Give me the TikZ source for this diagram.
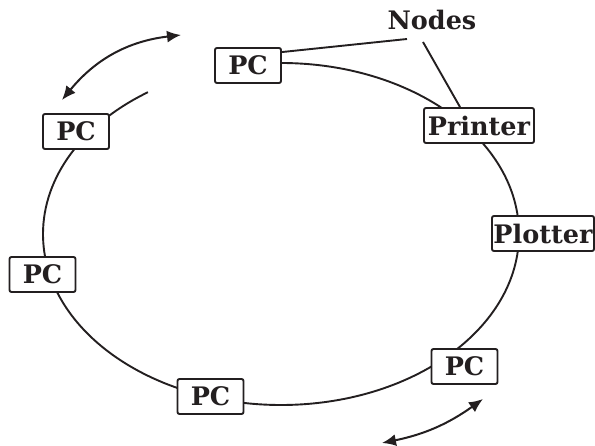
\documentclass[tikz,border=0pt]{standalone}
\usepackage{fontspec}
\setmainfont{DejaVu Serif}
\usetikzlibrary{arrows.meta}
\definecolor{ink}{RGB}{35,31,32}
\begin{document}
\begin{tikzpicture}[x=1pt,y=-1pt,
  station/.style={draw=ink, line width=1.9pt, rounded corners=2pt, fill=white,
    text=ink, font=\fontsize{25.5}{28}\selectfont\bfseries, inner sep=0pt,
    minimum height=35pt},
  pc/.style={station, minimum width=66pt},
  ring/.style={draw=ink, line width=1.9pt},
  token/.style={draw=ink, line width=2pt,
    {Latex[length=14pt,width=12pt]}-{Latex[length=14pt,width=12pt]}},
  callout/.style={draw=ink, line width=1.9pt},
  caption/.style={text=ink, font=\fontsize{25.5}{28}\selectfont\bfseries, inner sep=0pt}]
\useasboundingbox (0,0) rectangle (595,446);

% ring cable: an open ellipse, broken between the two upper-left PCs
\coordinate (hub) at (281,234);
\draw[ring] (281,63) arc[start angle=270, end angle=596, x radius=238, y radius=171];

% stations on the ring
\node[pc] (pcA) at (248,65.5) {PC};
\node[pc] (pcB) at (76,131.5) {PC};
\node[pc] (pcC) at (42.5,274.5) {PC};
\node[pc] (pcD) at (210.5,396.5) {PC};
\node[pc] (pcE) at (464.5,366.5) {PC};
\node[station, minimum width=110pt] (printer) at (479,125.5) {Printer};
\node[station, minimum width=102pt] (plotter) at (543,233.5) {Plotter};

% label with its pointers
\node[caption, anchor=base] (nodes) at (432,30) {Nodes};
\draw[callout] ([xshift=-25pt,yshift=-9pt]nodes.base) -- ([yshift=-5pt]pcA.north east);
\draw[callout] ([xshift=-9pt,yshift=-12pt]nodes.base) -- ([xshift=-19pt]printer.north);

% direction of travel
\coordinate (t1a) at (62,100);
\coordinate (t1b) at (181,35);
\draw[token] (t1a) to[bend left=22] (t1b);
\coordinate (t2a) at (483,399);
\coordinate (t2b) at (382,443);
\draw[token] (t2a) to[bend left=12] (t2b);
\end{tikzpicture}
\end{document}
